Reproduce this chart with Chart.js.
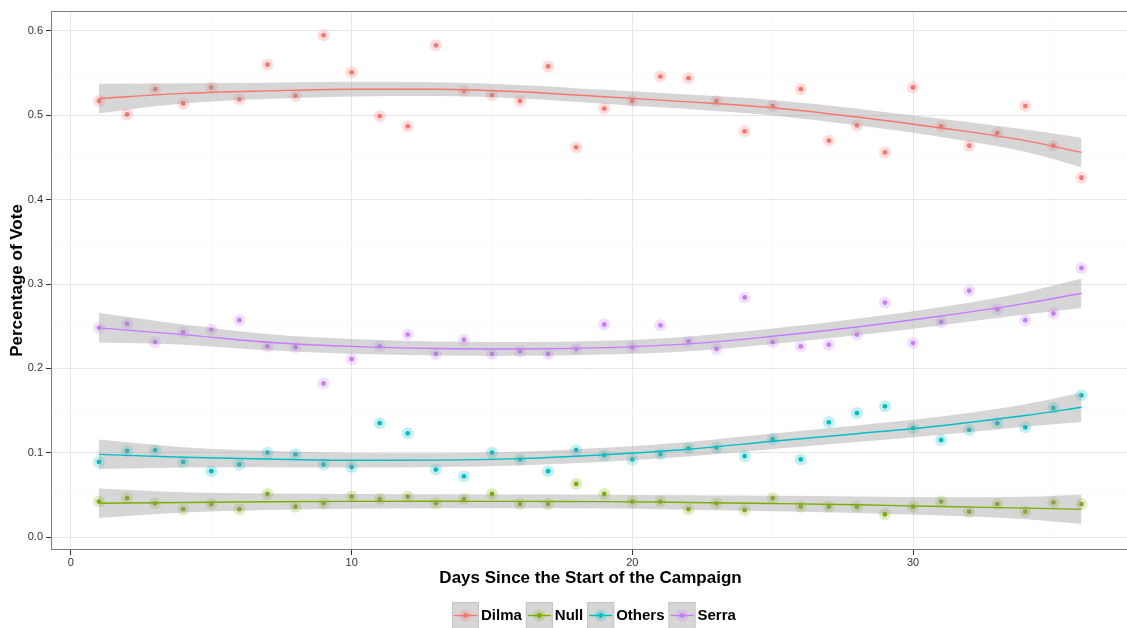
<!DOCTYPE html>
<html>
<head>
<meta charset="utf-8">
<title>Percentage of Vote by Campaign Day</title>
<script src="https://cdn.jsdelivr.net/npm/chart.js@4.4.1/dist/chart.umd.min.js"></script>
<style>
  html, body { margin: 0; padding: 0; background: #fff; overflow: hidden; }
  #wrap { width: 1127px; height: 628px; overflow: hidden; }
  canvas { display: block; }
</style>
</head>
<body>
<div id="wrap"><canvas id="chart" width="1136" height="628"></canvas></div>
<script>
// Daily poll readings, one value per campaign day
const days = [1, 2, 3, 4, 5, 6, 7, 8, 9, 10, 11, 12, 13, 14, 15, 16, 17, 18,
              19, 20, 21, 22, 23, 24, 25, 26, 27, 28, 29, 30, 31, 32, 33, 34, 35, 36];

const dilma = [0.517, 0.501, 0.531, 0.514, 0.533, 0.519, 0.560, 0.523, 0.595, 0.551, 0.499, 0.487,
               0.583, 0.529, 0.524, 0.517, 0.558, 0.462, 0.508, 0.517, 0.546, 0.544, 0.517, 0.481,
               0.511, 0.531, 0.470, 0.488, 0.456, 0.533, 0.487, 0.464, 0.479, 0.511, 0.464, 0.426];

const nullVote = [0.042, 0.046, 0.040, 0.033, 0.039, 0.033, 0.051, 0.036, 0.040, 0.048, 0.045, 0.048,
                  0.040, 0.045, 0.051, 0.039, 0.039, 0.063, 0.051, 0.042, 0.042, 0.033, 0.040, 0.032,
                  0.046, 0.036, 0.036, 0.036, 0.027, 0.036, 0.042, 0.030, 0.039, 0.030, 0.041, 0.039];

const others = [0.089, 0.102, 0.103, 0.089, 0.078, 0.086, 0.100, 0.098, 0.086, 0.083, 0.135, 0.123,
                0.080, 0.072, 0.100, 0.092, 0.078, 0.103, 0.097, 0.092, 0.098, 0.105, 0.106, 0.096,
                0.116, 0.092, 0.136, 0.147, 0.155, 0.129, 0.115, 0.127, 0.135, 0.130, 0.153, 0.168];

const serra = [0.248, 0.253, 0.231, 0.243, 0.246, 0.257, 0.226, 0.225, 0.182, 0.211, 0.226, 0.240,
               0.217, 0.234, 0.217, 0.220, 0.217, 0.223, 0.252, 0.225, 0.251, 0.232, 0.223, 0.284,
               0.231, 0.226, 0.228, 0.240, 0.278, 0.230, 0.255, 0.292, 0.270, 0.257, 0.265, 0.319];

// Smoothed trend for each candidate, sampled along the campaign
const fitDays   = [1, 4, 7, 10, 13, 16, 19, 22, 25, 28, 31, 34, 36];
const dilmaFit  = [0.520, 0.526, 0.529, 0.531, 0.531, 0.528, 0.522, 0.516, 0.509, 0.498, 0.485, 0.470, 0.456];
const nullFit   = [0.040, 0.041, 0.0418, 0.0423, 0.0424, 0.0422, 0.042, 0.041, 0.0397, 0.0382, 0.0362, 0.0343, 0.0328];
const othersFit = [0.098, 0.0945, 0.0925, 0.091, 0.0912, 0.093, 0.0975, 0.104, 0.1135, 0.1225, 0.132, 0.144, 0.1538];
const serraFit  = [0.248, 0.240, 0.231, 0.226, 0.2235, 0.223, 0.2245, 0.229, 0.238, 0.249, 0.262, 0.277, 0.289];
// Half-width of the confidence band around each trend
const bandHalf  = [0.0175, 0.012, 0.0097, 0.0087, 0.0082, 0.0081, 0.0082, 0.0086, 0.0091, 0.0098, 0.0108, 0.0133, 0.0175];

const seriesNames  = ['Dilma', 'Null', 'Others', 'Serra'];
const seriesColors = ['#F8766D', '#7CAE00', '#00BFC4', '#C77CFF'];
const seriesValues = [dilma, nullVote, others, serra];
const seriesFits   = [dilmaFit, nullFit, othersFit, serraFit];

// Axis ticks
const xMajorTicks = [0, 10, 20, 30];
const xMinorTicks = [5, 15, 25, 35];
const xTickLabels = ['0', '10', '20', '30'];
const yMajorTicks = [0, 0.1, 0.2, 0.3, 0.4, 0.5, 0.6];
const yMinorTicks = [0.05, 0.15, 0.25, 0.35, 0.45, 0.55];
const yTickLabels = ['0.0', '0.1', '0.2', '0.3', '0.4', '0.5', '0.6'];

const FONT = "'Liberation Sans', Arial, Helvetica, sans-serif";
Chart.defaults.font.family = FONT;

function withAlpha(hex, a) {
  const n = parseInt(hex.slice(1), 16);
  return `rgba(${(n >> 16) & 255}, ${(n >> 8) & 255}, ${n & 255}, ${a})`;
}
const BAND_FILL = 'rgba(153, 153, 153, 0.4)';
const HALO_R = 6, HALO_A = 0.24, DOT_R = 2.4;

// Build datasets: halo + dot for the readings, ribbon + line for the trend
const datasets = [];
seriesNames.forEach((name, s) => {
  const pts = days.map((d, i) => ({ x: d, y: seriesValues[s][i] }));
  datasets.push({
    type: 'scatter', label: name + ' halo', data: pts, order: 5,
    pointRadius: HALO_R, pointBorderWidth: 0, pointBackgroundColor: withAlpha(seriesColors[s], HALO_A)
  });
  datasets.push({
    type: 'scatter', label: name, data: pts, order: 4,
    pointRadius: DOT_R, pointBorderWidth: 0, pointBackgroundColor: seriesColors[s]
  });
});
seriesNames.forEach((name, s) => {
  const fit = seriesFits[s];
  datasets.push({
    type: 'line', label: name + ' upper', order: 2,
    data: fitDays.map((d, i) => ({ x: d, y: fit[i] + bandHalf[i] })),
    fill: '+1', backgroundColor: BAND_FILL, borderColor: 'rgba(0,0,0,0)', borderWidth: 0,
    pointRadius: 0, cubicInterpolationMode: 'monotone'
  });
  datasets.push({
    type: 'line', label: name + ' lower', order: 2,
    data: fitDays.map((d, i) => ({ x: d, y: fit[i] - bandHalf[i] })),
    fill: false, borderColor: 'rgba(0,0,0,0)', borderWidth: 0,
    pointRadius: 0, cubicInterpolationMode: 'monotone'
  });
});
seriesNames.forEach((name, s) => {
  datasets.push({
    type: 'line', label: name + ' trend', order: 1,
    data: fitDays.map((d, i) => ({ x: d, y: seriesFits[s][i] })),
    fill: false, borderColor: seriesColors[s], borderWidth: 1.4,
    pointRadius: 0, cubicInterpolationMode: 'monotone'
  });
});

function setTicks(major, minor) {
  return scale => {
    const list = major.map(v => ({ value: v, minor: false }))
      .concat(minor.map(v => ({ value: v, minor: true })));
    list.sort((a, b) => a.value - b.value);
    scale.ticks = list;
  };
}
function labelFor(major, labels) {
  return value => {
    const k = major.findIndex(m => Math.abs(m - value) < 1e-9);
    return k >= 0 ? labels[k] : '';
  };
}
const gridColor = ctx => (ctx.tick && ctx.tick.minor) ? '#fafafa' : '#e6e6e6';
const tickColor = ctx => (ctx.tick && ctx.tick.minor) ? 'rgba(0,0,0,0)' : '#333333';

// Panel border drawn over the plotted marks
const panelBorder = {
  id: 'panelBorder',
  afterDatasetsDraw(chart) {
    const { ctx, chartArea: a } = chart;
    ctx.save();
    ctx.strokeStyle = '#7f7f7f';
    ctx.lineWidth = 1;
    ctx.strokeRect(a.left + 0.5, a.top + 0.5, a.right - a.left - 1, a.bottom - a.top - 1);
    ctx.restore();
  }
};

// Legend row below the x-axis title: grey key box with line and point
const keyLegend = {
  id: 'keyLegend',
  afterDraw(chart) {
    const { ctx, chartArea: a } = chart;
    ctx.save();
    ctx.font = `bold 15px ${FONT}`;
    const key = 27, textGap = 2, itemGap = 4;
    const widths = seriesNames.map(n => ctx.measureText(n).width);
    const total = widths.reduce((s, w) => s + key + textGap + w, 0) + itemGap * (seriesNames.length - 1);
    let x = Math.round((a.left + a.right) / 2 + 3 - total / 2);
    const top = 602, cy = 615.5;
    seriesNames.forEach((name, s) => {
      ctx.fillStyle = '#ffffff';
      ctx.fillRect(x, top, key, key);
      ctx.fillStyle = BAND_FILL;
      ctx.fillRect(x, top, key, key);
      ctx.strokeStyle = '#c4c4c4';
      ctx.lineWidth = 1;
      ctx.strokeRect(x + 0.5, top + 0.5, key - 1, key - 1);
      ctx.strokeStyle = seriesColors[s];
      ctx.lineWidth = 1.4;
      ctx.beginPath();
      ctx.moveTo(x + 2, cy);
      ctx.lineTo(x + key - 2, cy);
      ctx.stroke();
      ctx.fillStyle = withAlpha(seriesColors[s], HALO_A);
      ctx.beginPath(); ctx.arc(x + key / 2, cy, HALO_R, 0, Math.PI * 2); ctx.fill();
      ctx.fillStyle = seriesColors[s];
      ctx.beginPath(); ctx.arc(x + key / 2, cy, DOT_R, 0, Math.PI * 2); ctx.fill();
      ctx.fillStyle = '#000000';
      ctx.textBaseline = 'middle';
      ctx.textAlign = 'left';
      ctx.fillText(name, x + key + textGap, cy);
      x += key + textGap + widths[s] + itemGap;
    });
    ctx.restore();
  }
};

new Chart(document.getElementById('chart'), {
  data: { datasets },
  options: {
    responsive: false,
    animation: false,
    events: [],
    layout: { padding: { left: 0, right: 1, top: 11, bottom: 0 } },
    plugins: { legend: { display: false }, tooltip: { enabled: false } },
    scales: {
      x: {
        type: 'linear', min: -0.71, max: 37.73,
        afterBuildTicks: setTicks(xMajorTicks, xMinorTicks),
        afterFit: s => { s.height = 78; },
        ticks: {
          autoSkip: false, maxRotation: 0, padding: 2, color: '#333333',
          font: { size: 11, lineHeight: 1 },
          callback: labelFor(xMajorTicks, xTickLabels)
        },
        grid: { color: gridColor, tickColor: tickColor, tickLength: 5, lineWidth: 1 },
        border: { display: false },
        title: {
          display: true, text: 'Days Since the Start of the Campaign', color: '#000000',
          font: { size: 17, weight: 'bold', lineHeight: 1 },
          padding: { top: 0, bottom: 41 }
        }
      },
      y: {
        type: 'linear', min: -0.0154, max: 0.6237,
        afterBuildTicks: setTicks(yMajorTicks, yMinorTicks),
        afterFit: s => { s.width = 51; },
        ticks: {
          autoSkip: false, padding: 3, color: '#333333',
          font: { size: 11, lineHeight: 1 },
          callback: labelFor(yMajorTicks, yTickLabels)
        },
        grid: { color: gridColor, tickColor: tickColor, tickLength: 5, lineWidth: 1 },
        border: { display: false },
        title: {
          display: true, text: 'Percentage of Vote', color: '#000000',
          font: { size: 17, weight: 'bold', lineHeight: 1 },
          padding: { top: 9, bottom: 0 }
        }
      }
    }
  },
  plugins: [panelBorder, keyLegend]
});
</script>
</body>
</html>
